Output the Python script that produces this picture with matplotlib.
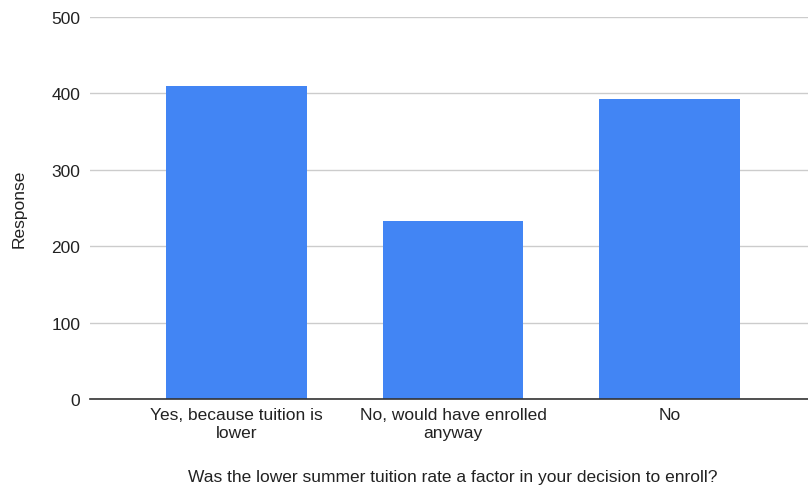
import matplotlib.pyplot as plt

plt.rcParams['font.family'] = ['Liberation Sans', 'DejaVu Sans']

# Data
categories = ["Yes, because tuition is\nlower", "No, would have enrolled\nanyway", "No"]
responses = [410, 233, 393]
y_ticks = [0, 100, 200, 300, 400, 500]

fig = plt.figure(figsize=(8.08, 4.89), dpi=100)
ax = fig.add_axes([90 / 808, 89 / 489, 718 / 808, 382 / 489])

x = list(range(len(categories)))
ax.bar(x, responses, width=0.65, color="#4285f4", zorder=3)

ax.set_xlim(-0.677, 2.64)
ax.set_ylim(0, 500)
ax.set_yticks(y_ticks)
ax.set_yticklabels([str(t) for t in y_ticks], fontsize=12.5, color="#222222")
ax.set_xticks(x)
ax.set_xticklabels(categories, fontsize=12.5, color="#222222", linespacing=1.25)

ax.grid(axis="y", color="#cccccc", linewidth=1, zorder=0)
ax.tick_params(axis="both", length=0)
ax.tick_params(axis="y", pad=7)
ax.tick_params(axis="x", pad=6)
for s in ["top", "right", "left"]:
    ax.spines[s].set_visible(False)
ax.spines["bottom"].set_color("#333333")
ax.spines["bottom"].set_linewidth(1.2)
ax.spines["bottom"].set_zorder(4)

ax.set_ylabel("Response", fontsize=12.5, color="#222222", labelpad=18)
fig.text(453 / 808, 1 - 478 / 489, "Was the lower summer tuition rate a factor in your decision to enroll?",
         ha="center", va="center", fontsize=12.5, color="#222222")

fig.savefig("out.png", dpi=100)
